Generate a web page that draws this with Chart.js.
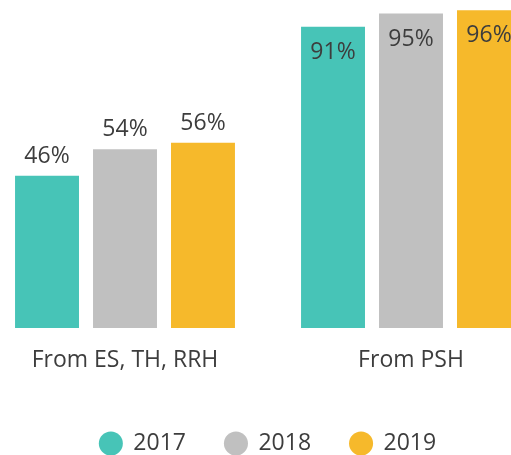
<!DOCTYPE html>
<html>
<head>
<meta charset="utf-8">
<script src="https://cdn.jsdelivr.net/npm/chart.js@4.4.1/dist/chart.umd.min.js"></script>
<style>
  html, body { margin: 0; padding: 0; background: #fff; overflow: hidden; }
  body { width: 511px; height: 455px; position: relative; }
  /* the chart is wider and taller than the window, it gets cropped */
  #wrap { position: absolute; left: -18px; top: -3px; width: 572px; height: 468px; }
</style>
</head>
<body>
<div id="wrap"><canvas id="chart" width="572" height="468"></canvas></div>
<script>
// Data
const categories = ['From ES, TH, RRH', 'From PSH'];
const years = ['2017', '2018', '2019'];
const values2017 = [46, 91];
const values2018 = [54, 95];
const values2019 = [56, 96];

const colors = ['#47C4B7', '#C0C0C0', '#F6B92B'];
const textColor = '#3d3d3d';
const fontFamily = '"Open Sans", sans-serif';
const fontSize = 23;

// Draw the % labels above the bars, or inside when there's no room
const valueLabels = {
    id: 'valueLabels',
    afterDatasetsDraw(chart) {
        const ctx = chart.ctx;
        ctx.save();
        ctx.font = fontSize + 'px ' + fontFamily;
        ctx.fillStyle = textColor;
        ctx.textAlign = 'center';
        ctx.textBaseline = 'alphabetic';
        chart.data.datasets.forEach((ds, i) => {
            chart.getDatasetMeta(i).data.forEach((bar, j) => {
                const label = ds.data[j] + '%';
                if (bar.y < 60) {
                    ctx.fillText(label, bar.x, bar.y + 32);
                } else {
                    ctx.fillText(label, bar.x, bar.y - 13);
                }
            });
        });
        ctx.restore();
    }
};

const ctx = document.getElementById('chart').getContext('2d');
const chart = new Chart(ctx, {
    type: 'bar',
    data: {
        labels: categories,
        datasets: [
            { label: years[0], data: values2017, backgroundColor: colors[0] },
            { label: years[1], data: values2018, backgroundColor: colors[1] },
            { label: years[2], data: values2019, backgroundColor: colors[2] }
        ]
    },
    options: {
        responsive: false,
        animation: false,
        devicePixelRatio: 1,
        layout: { padding: 0 },
        datasets: {
            bar: {
                categoryPercentage: 0.818,
                barPercentage: 0.82,
                borderWidth: 0
            }
        },
        scales: {
            x: {
                grid: { display: false, drawTicks: false },
                border: { display: false },
                ticks: {
                    color: textColor,
                    font: { family: fontFamily, size: fontSize },
                    padding: 19,
                    maxRotation: 0,
                    autoSkip: false
                },
                afterFit: (scale) => { scale.height = 65; }
            },
            y: {
                display: false,
                min: 0,
                max: 100
            }
        },
        plugins: {
            tooltip: { enabled: false },
            legend: {
                position: 'bottom',
                labels: {
                    usePointStyle: true,
                    pointStyle: 'circle',
                    boxWidth: 22,
                    boxHeight: 17,
                    padding: 39,
                    color: textColor,
                    font: { family: fontFamily, size: fontSize }
                }
            }
        }
    },
    plugins: [valueLabels]
});
</script>
</body>
</html>
